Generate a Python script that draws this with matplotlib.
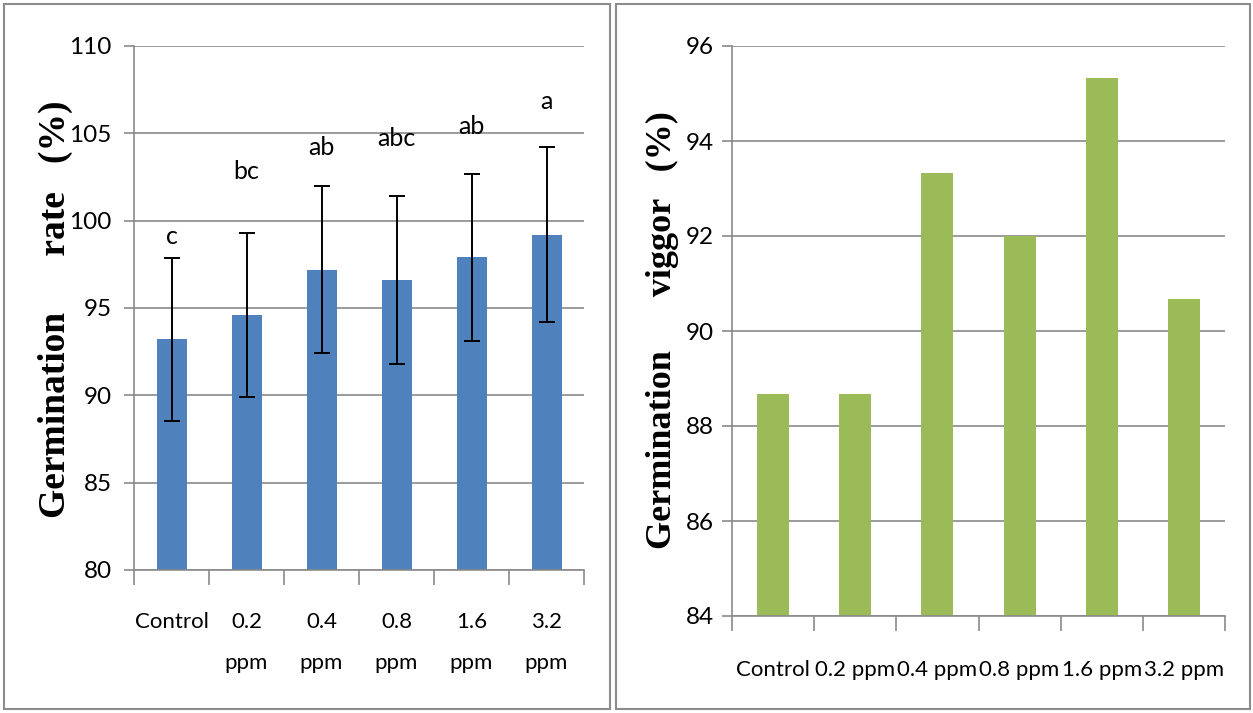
import matplotlib.pyplot as plt
from matplotlib.patches import Rectangle

# data
groups = ['Control', '0.2 ppm', '0.4 ppm', '0.8 ppm', '1.6 ppm', '3.2 ppm']
rate_labels = ['Control', '0.2\nppm', '0.4\nppm', '0.8\nppm', '1.6\nppm', '3.2\nppm']
rate = [93.2, 94.6, 97.2, 96.6, 97.9, 99.2]
rate_err = [4.65, 4.7, 4.8, 4.8, 4.8, 5.0]
letters = ['c', 'bc', 'ab', 'abc', 'ab', 'a']
letter_y = [99.1, 102.8, 104.2, 104.7, 105.4, 106.8]
vigor = [88.67, 88.67, 93.33, 92.0, 95.33, 90.67]

TICK_FONT = ['Lato', 'DejaVu Sans']
LABEL_FONT = ['Liberation Serif', 'DejaVu Serif']
GRID = '#8a8a8a'

W, H = 1253, 713
fig = plt.figure(figsize=(W / 100, H / 100), dpi=100)


def px(x0, y0, x1, y1):
    return [x0 / W, 1 - y1 / H, (x1 - x0) / W, (y1 - y0) / H]


def style(ax, ylim, step, labels, pad, ypad):
    pos = [i + 0.5 for i in range(len(labels))]
    ax.set_xlim(0, len(labels))
    ax.set_ylim(*ylim)
    ax.set_yticks(range(ylim[0], ylim[1] + 1, step))
    ax.set_xticks(pos)
    ax.set_xticklabels(labels, family=TICK_FONT, fontsize=16, linespacing=2.35, va='top')
    ax.set_xticks(range(len(labels) + 1), minor=True)
    ax.tick_params(axis='x', which='major', length=0, pad=pad)
    ax.tick_params(axis='x', which='minor', length=11, width=1.2, color=GRID, direction='out')
    ax.tick_params(axis='y', length=7, width=1.2, color=GRID, pad=ypad)
    for t in ax.get_yticklabels():
        t.set_family(TICK_FONT)
        t.set_fontsize(17.5)
    for s in ['top', 'right']:
        ax.spines[s].set_visible(False)
    for s in ['left', 'bottom']:
        ax.spines[s].set_color(GRID)
        ax.spines[s].set_linewidth(1.2)
    ax.yaxis.grid(True, color=GRID, lw=1.2)
    ax.set_axisbelow(True)
    return pos


# left: germination rate
ax1 = fig.add_axes(px(134, 46, 584, 570))
x1 = style(ax1, (80, 110), 5, rate_labels, 30, 9)
ax1.bar(x1, rate, width=0.4, color='#4F81BD', zorder=2)
ax1.errorbar(x1, rate, yerr=rate_err, fmt='none', ecolor='black',
             elinewidth=1.4, capsize=6, capthick=1.4, zorder=3)
for x, y, s in zip(x1, letter_y, letters):
    ax1.text(x, y, s, ha='center', va='center', family=TICK_FONT, fontsize=18)
fig.text(55 / W, 1 - 309 / H, 'Germination      rate   (%)', rotation=90,
         ha='center', va='center', family=LABEL_FONT, fontweight='bold', fontsize=27)

# right: germination vigor
ax2 = fig.add_axes(px(732, 46, 1225, 616))
x2 = style(ax2, (84, 96), 2, groups, 32, 6)
ax2.bar(x2, vigor, width=0.39, color='#9BBB59', zorder=2)
fig.text(662 / W, 1 - 330 / H, 'Germination      viggor   (%)', rotation=90,
         ha='center', va='center', family=LABEL_FONT, fontweight='bold', fontsize=26)

# panel frames
for x0, x1_ in [(4, 610), (616, 1250)]:
    fig.patches.append(Rectangle((x0 / W, 4 / H), (x1_ - x0) / W, (H - 8) / H,
                                 transform=fig.transFigure, fill=False,
                                 edgecolor='#8c8c8c', lw=1.5))

fig.savefig('out.png', dpi=100)
